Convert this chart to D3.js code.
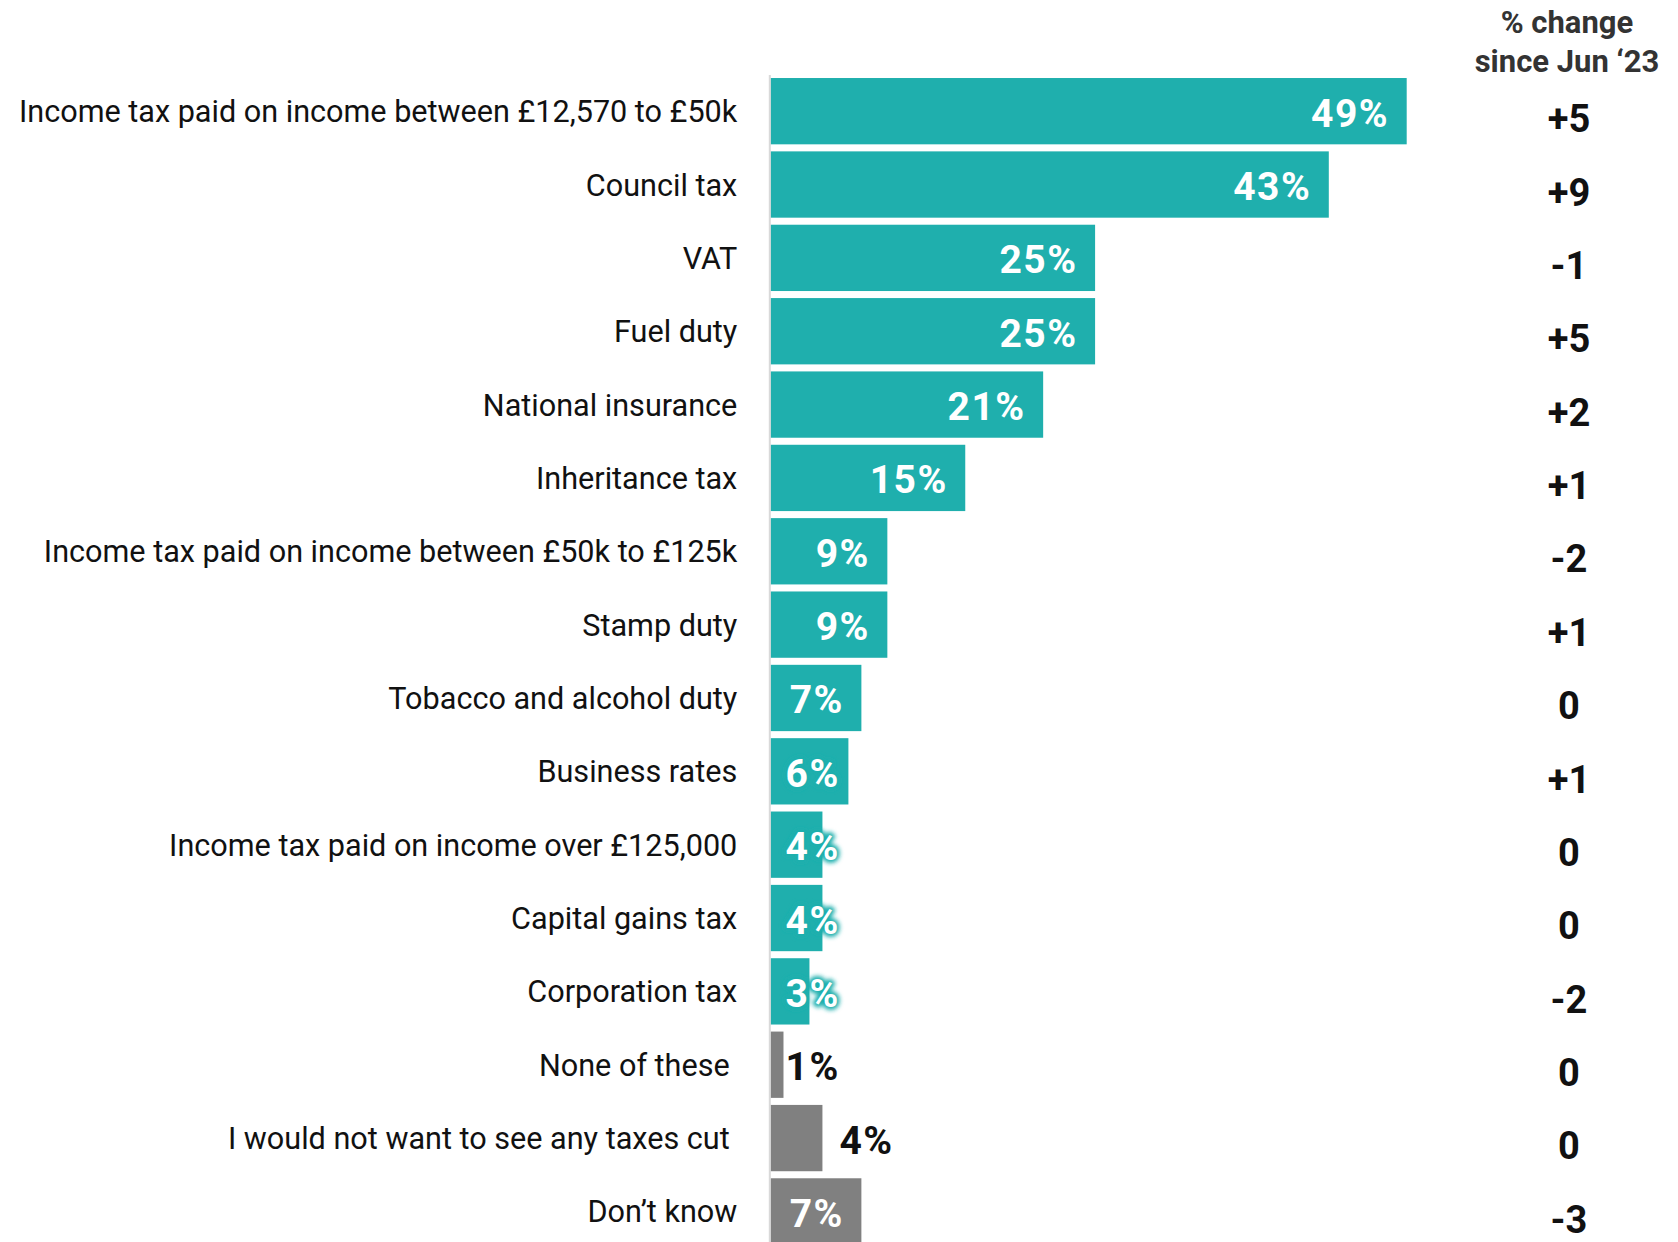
<!DOCTYPE html>
<html>
<head>
<meta charset="utf-8">
<script src="https://cdn.jsdelivr.net/npm/d3@7"></script>
<style>
  html, body { margin: 0; padding: 0; background: #ffffff; }
  svg { display: block; }
  .cat-axis text { font-family: Roboto, "Noto Sans", sans-serif; font-size: 30.6px; fill: #111; }
  .cat-axis path { stroke: #d9d9d9; stroke-width: 2px; }
  .val { font-family: Roboto, "Noto Sans", sans-serif; font-weight: 700; font-size: 39px; letter-spacing: 1.5px; }
  .chg { font-family: Roboto, "Noto Sans", sans-serif; font-weight: 700; font-size: 38px; fill: #111; text-anchor: middle; }
  .hdr { font-family: Roboto, "Noto Sans", sans-serif; font-weight: 700; font-size: 31px; fill: #333; text-anchor: middle; }
</style>
</head>
<body>
<svg id="chart" width="1678" height="1242"></svg>
<script>
// Taxes people would most like to see cut
const categories = [
  "Income tax paid on income between £12,570 to £50k",
  "Council tax",
  "VAT",
  "Fuel duty",
  "National insurance",
  "Inheritance tax",
  "Income tax paid on income between £50k to £125k",
  "Stamp duty",
  "Tobacco and alcohol duty",
  "Business rates",
  "Income tax paid on income over £125,000",
  "Capital gains tax",
  "Corporation tax",
  "None of these\u00a0",
  "I would not want to see any taxes cut\u00a0",
  "Don’t know"
];
const shares = [49, 43, 25, 25, 21, 15, 9, 9, 7, 6, 4, 4, 3, 1, 4, 7];
const changes = ["+5", "+9", "-1", "+5", "+2", "+1", "-2", "+1", "0", "+1", "0", "0", "-2", "0", "0", "-3"];
// Non-tax answers are shown in grey
const nonTaxAnswers = ["None of these\u00a0", "I would not want to see any taxes cut\u00a0", "Don’t know"];
const headerLines = ["% change", "since Jun ‘23"];

const TEAL = "#1fafad";
const GREY = "#808080";

const svg = d3.select("#chart");

const x0 = 770.5;
const x = d3.scaleLinear().domain([0, 49]).range([x0, 1406.7]);
const y = d3.scaleBand()
  .domain(categories)
  .range([74.5, 74.5 + 16 * 73.35])
  .paddingInner(0.096)
  .paddingOuter(0.048);

// Glow used behind labels that spill past the end of a short bar
const defs = svg.append("defs");
const glow = defs.append("filter").attr("id", "glow")
  .attr("x", "-30%").attr("y", "-30%").attr("width", "160%").attr("height", "160%");
glow.append("feGaussianBlur").attr("stdDeviation", 2.2);

const rows = categories.map((c, i) => ({
  category: c,
  value: shares[i],
  change: changes[i],
  grey: nonTaxAnswers.includes(c)
}));

// Bars
svg.append("g").selectAll("rect")
  .data(rows)
  .join("rect")
  .attr("x", x0)
  .attr("y", d => y(d.category))
  .attr("width", d => x(d.value) - x0)
  .attr("height", y.bandwidth())
  .attr("fill", d => d.grey ? GREY : TEAL);

// Category axis (its domain line is the thin grey baseline)
const axis = d3.axisLeft(y).tickSize(0).tickSizeOuter(0).tickPadding(32);
svg.append("g")
  .attr("class", "cat-axis")
  .attr("transform", `translate(${x0 - 1.2},0)`)
  .call(axis)
  .call(g => g.selectAll("text").attr("dy", "0.36em"));

// Value labels
const valG = svg.append("g");
const pad = 17.5;
const minStart = x0 + 15;
rows.forEach(d => {
  const cy = y(d.category) + y.bandwidth() / 2 + 15.5;
  const label = d.value + "%";
  const probe = valG.append("text").attr("class", "val").text(label);
  const w = probe.node().getComputedTextLength();
  probe.remove();
  const barEnd = x(d.value);
  const fits = barEnd - pad - w >= minStart - 4;
  let tx, fill = "#fff", halo = false;
  if (fits) {
    tx = barEnd - pad - w;
  } else if (!d.grey) {
    tx = minStart; halo = true;
  } else {
    fill = "#111";
    tx = d.value >= 2 ? barEnd + 17 : minStart;
  }
  if (halo) {
    valG.append("text").attr("class", "val")
      .attr("x", tx).attr("y", cy)
      .attr("fill", TEAL).attr("stroke", TEAL).attr("stroke-width", 6)
      .attr("stroke-linejoin", "round")
      .attr("filter", "url(#glow)")
      .text(label);
  }
  valG.append("text").attr("class", "val")
    .attr("x", tx).attr("y", cy)
    .attr("fill", fill)
    .text(label);
});

// Change since June 2023 column
const colX = 1569;
svg.append("g").selectAll("text")
  .data(headerLines)
  .join("text")
  .attr("class", "hdr")
  .attr("x", colX - 2)
  .attr("y", (d, i) => 33 + i * 38.5)
  .text(d => d);

svg.append("g").selectAll("text")
  .data(rows)
  .join("text")
  .attr("class", "chg")
  .attr("x", colX)
  .attr("y", d => y(d.category) + y.bandwidth() / 2 + 7.5)
  .attr("dy", "0.36em")
  .text(d => d.change);
</script>
</body>
</html>
